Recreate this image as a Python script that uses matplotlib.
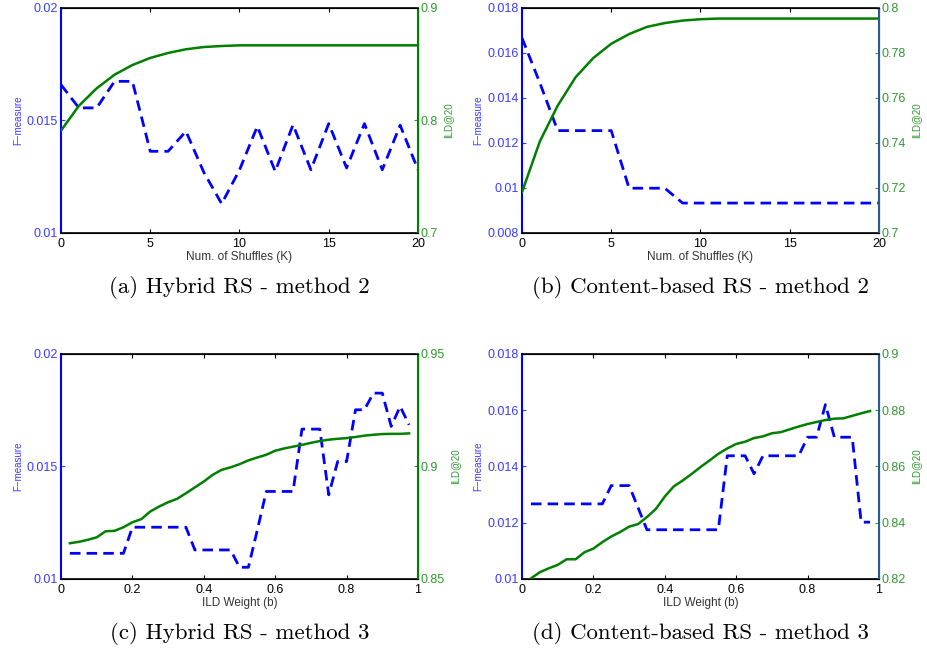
import matplotlib
matplotlib.use("Agg")
import matplotlib.pyplot as plt

plt.rcParams['font.family'] = ['Liberation Sans', 'DejaVu Sans']

# x values
shuffles = list(range(0, 21))
weights = [round(0.025 * i, 3) for i in range(1, 40)]

# (a) Hybrid RS - method 2
fm_a = [0.01659, 0.01556, 0.01556, 0.01674, 0.01674, 0.01363, 0.01363, 0.01452,
        0.0127, 0.0113, 0.0128, 0.01474, 0.01274, 0.01481, 0.01281, 0.01486,
        0.01289, 0.01486, 0.01281, 0.01479, 0.01281]
ild_a = [0.791, 0.813, 0.8286, 0.8407, 0.8493, 0.8556, 0.860, 0.8633, 0.8653,
         0.8662, 0.8668, 0.8668, 0.8668, 0.8668, 0.8668, 0.8668, 0.8668,
         0.8668, 0.8668, 0.8668, 0.8668]

# (b) Content-based RS - method 2
fm_b = [0.01667, 0.01467, 0.01255, 0.01255, 0.01255, 0.01255, 0.00999, 0.00999,
        0.00999, 0.00933, 0.00933, 0.00933, 0.00933, 0.00933, 0.00933, 0.00933,
        0.00933, 0.00933, 0.00933, 0.00933, 0.00933]
ild_b = [0.7181, 0.7407, 0.7566, 0.7692, 0.7778, 0.7841, 0.7884, 0.7916, 0.7933,
         0.7944, 0.7950, 0.7953, 0.7953, 0.7953, 0.7953, 0.7953, 0.7953,
         0.7953, 0.7953, 0.7953, 0.7953]

# (c) Hybrid RS - method 3
fm_c = [0.01114, 0.01114, 0.01114, 0.01114, 0.01114, 0.01114, 0.01114, 0.0123,
        0.0123, 0.0123, 0.0123, 0.0123, 0.0123, 0.0123, 0.01129, 0.01129,
        0.01129, 0.01129, 0.01129, 0.01052, 0.01052, 0.01218, 0.01389, 0.01389,
        0.01389, 0.01389, 0.01666, 0.01666, 0.01666, 0.01374, 0.01522, 0.01522,
        0.01752, 0.01752, 0.01826, 0.01826, 0.01678, 0.01767, 0.01685]
ild_c = [0.8659, 0.8665, 0.8674, 0.8685, 0.8712, 0.8714, 0.8730, 0.8752, 0.8766,
         0.8800, 0.8822, 0.8841, 0.8856, 0.8881, 0.8907, 0.8933, 0.8963, 0.8985,
         0.8996, 0.9010, 0.9027, 0.9040, 0.9052, 0.9070, 0.9080, 0.9088, 0.9096,
         0.9105, 0.9113, 0.9119, 0.9123, 0.9126, 0.9131, 0.9137, 0.9141, 0.9144,
         0.9145, 0.9145, 0.9147]

# (d) Content-based RS - method 3
fm_d = [0.01267, 0.01267, 0.01267, 0.01267, 0.01267, 0.01267, 0.01267, 0.01267,
        0.01267, 0.01332, 0.01332, 0.01332, 0.01254, 0.01175, 0.01175, 0.01175,
        0.01175, 0.01175, 0.01175, 0.01175, 0.01175, 0.01175, 0.01438, 0.01438,
        0.01438, 0.01374, 0.01438, 0.01438, 0.01438, 0.01438, 0.01438, 0.01504,
        0.01504, 0.0162, 0.01504, 0.01504, 0.01504, 0.01202, 0.01202]
ild_d = [0.8202, 0.8224, 0.8238, 0.8250, 0.8270, 0.8270, 0.8295, 0.8308, 0.8331,
         0.8351, 0.8367, 0.8386, 0.8395, 0.8420, 0.8449, 0.8493, 0.8529, 0.8550,
         0.8573, 0.8598, 0.8621, 0.8645, 0.8664, 0.8680, 0.8688, 0.8701, 0.8707,
         0.8718, 0.8722, 0.8732, 0.8742, 0.8751, 0.8758, 0.8765, 0.8770, 0.8771,
         0.8780, 0.8789, 0.8797]

xt_k = [0, 5, 10, 15, 20]
xt_b = [0, 0.2, 0.4, 0.6, 0.8, 1]
xtl_b = ['0', '0.2', '0.4', '0.6', '0.8', '1']

BLUE = '#0000ff'
GREEN = '#007f00'
LBLUE = '#3b3bff'
LGREEN = '#2f9a2f'
RSPINE = '#2b5d8c'


def panel(pos, x, fm, ild, xlim, xticks, xticklabels, xlabel,
          ylim1, yt1, ytl1, ylim2, yt2, ytl2, rcolor, caption):
    ax = fig.add_axes(pos)
    ax.plot(x, fm, color=BLUE, lw=2, ls='--', dashes=(3.8, 2.2))
    ax.set_xlim(xlim)
    ax.set_ylim(ylim1)
    ax.set_xticks(xticks)
    ax.set_xticklabels(xticklabels)
    ax.set_yticks(yt1)
    ax.set_yticklabels(ytl1)
    ax.tick_params(axis='both', direction='in', length=3, labelsize=9, pad=2)
    ax.tick_params(axis='x', top=True, colors='black', pad=3.5)
    ax.tick_params(axis='y', colors=LBLUE)
    ax.spines['left'].set_color(BLUE)
    ax.spines['left'].set_linewidth(1.5)
    for s in ['top', 'bottom']:
        ax.spines[s].set_linewidth(1.2)
    ax.set_xlabel(xlabel, fontsize=8.5, color='#333333', labelpad=0.5)
    ax.set_ylabel('F\u2212measure', fontsize=7, color=LBLUE, labelpad=3)

    ax2 = ax.twinx()
    ax2.plot(x, ild, color=GREEN, lw=1.8)
    ax2.set_ylim(ylim2)
    ax2.set_yticks(yt2)
    ax2.set_yticklabels(ytl2)
    ax2.tick_params(axis='y', direction='in', length=3, labelsize=9, pad=2,
                    colors=LGREEN)
    ax2.spines['right'].set_color(rcolor)
    ax2.spines['right'].set_linewidth(1.5)
    ax2.spines['left'].set_visible(False)
    ax2.set_ylabel('ILD@20', fontsize=7, color=LGREEN, labelpad=4)

    fig.text(pos[0] + pos[2] / 2, pos[1] - 0.084, caption,
             ha='center', va='center', fontsize=16.5, family='cmr10')


fig = plt.figure(figsize=(9.27, 6.49), dpi=100)

panel([0.0658, 0.641, 0.3851, 0.3467], shuffles, fm_a, ild_a, (0, 20), xt_k,
      [str(v) for v in xt_k], 'Num. of Shuffles (K)',
      (0.01, 0.02), [0.01, 0.015, 0.02], ['0.01', '0.015', '0.02'],
      (0.7, 0.9), [0.7, 0.8, 0.9], ['0.7', '0.8', '0.9'], GREEN,
      '(a) Hybrid RS - method 2')

panel([0.5631, 0.641, 0.3851, 0.3467], shuffles, fm_b, ild_b, (0, 20), xt_k,
      [str(v) for v in xt_k], 'Num. of Shuffles (K)',
      (0.008, 0.018), [0.008, 0.01, 0.012, 0.014, 0.016, 0.018],
      ['0.008', '0.01', '0.012', '0.014', '0.016', '0.018'],
      (0.7, 0.8), [0.7, 0.72, 0.74, 0.76, 0.78, 0.8],
      ['0.7', '0.72', '0.74', '0.76', '0.78', '0.8'], RSPINE,
      '(b) Content-based RS - method 2')

panel([0.0658, 0.1079, 0.3851, 0.3467], weights, fm_c, ild_c, (0, 1), xt_b,
      xtl_b, 'ILD Weight (b)',
      (0.01, 0.02), [0.01, 0.015, 0.02], ['0.01', '0.015', '0.02'],
      (0.85, 0.95), [0.85, 0.9, 0.95], ['0.85', '0.9', '0.95'], GREEN,
      '(c) Hybrid RS - method 3')

panel([0.5631, 0.1079, 0.3851, 0.3467], weights, fm_d, ild_d, (0, 1), xt_b,
      xtl_b, 'ILD Weight (b)',
      (0.01, 0.018), [0.01, 0.012, 0.014, 0.016, 0.018],
      ['0.01', '0.012', '0.014', '0.016', '0.018'],
      (0.82, 0.9), [0.82, 0.84, 0.86, 0.88, 0.9],
      ['0.82', '0.84', '0.86', '0.88', '0.9'], RSPINE,
      '(d) Content-based RS - method 3')

fig.savefig('out.png', dpi=100)
